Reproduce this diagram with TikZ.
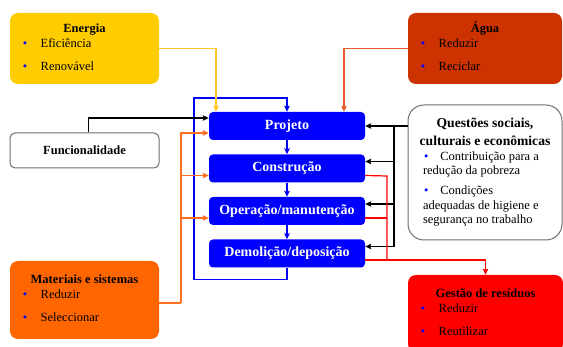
\documentclass[tikz,border=0pt]{standalone}
\usepackage{fontspec}
\setmainfont{Liberation Serif}
\usepackage{tikz}
\usetikzlibrary{arrows.meta,shapes,positioning}
\usepackage{xcolor}
\definecolor{dfblue}{RGB}{0,0,255}
\definecolor{dfyellow}{RGB}{255,204,0}
\definecolor{dfyellowline}{RGB}{255,200,40}
\definecolor{dfagua}{RGB}{204,51,0}
\definecolor{dfagualine}{RGB}{230,90,40}
\definecolor{dforange}{RGB}{255,102,0}
\definecolor{dforangeline}{RGB}{255,110,30}
\definecolor{dfred}{RGB}{255,0,0}
\definecolor{dfgray}{RGB}{110,110,110}
\tikzstyle{arrow} = [line width=1.2pt,-{Stealth[length=6pt,width=5.5pt,inset=1pt]}]
\tikzstyle{linha} = [line width=1.2pt]
\tikzstyle{caixa} = [rectangle, rounded corners=8pt, inner sep=5pt, font=\fontsize{12.5}{15}\selectfont]
\tikzstyle{etapa} = [rectangle, rounded corners=4pt, minimum width=156pt, minimum height=28pt, fill=dfblue, text=white, font=\fontsize{14}{16}\selectfont\bfseries]
\newcommand{\ponto}{\hspace*{7.8pt}\textcolor{dfblue}{\textbullet}\hspace{13.5pt}}

\begin{document}
\begin{tikzpicture}[x=1pt, y=-1pt]
\useasboundingbox (0,0) rectangle (563,347);

% life cycle stages
\node (projeto) [etapa] at (287,126) {Projeto};
\node (construcao) [etapa, below of=projeto, node distance=42.5pt] {Construção};
\node (operacao) [etapa, below of=construcao, node distance=42.5pt] {Operação/manutenção};
\node (demolicao) [etapa, below of=operacao, node distance=42.5pt] {Demolição/deposição};

% boxes on the left
\node (energia) [caixa, minimum width=149pt, minimum height=71pt, fill=dfyellow] at (84.5,48.5) {
\begin{tabular}{@{}p{139pt}@{}}
\multicolumn{1}{c}{\textbf{Energia}}\\
\ponto Eficiência\\[8pt]
\ponto Renovável
\end{tabular}
};

\node (funcionalidade) [caixa, rounded corners=5pt, minimum width=149pt, minimum height=35pt, draw=dfgray, line width=1pt] at (84.5,150.5) {\textbf{Funcionalidade}};

\node (materiais) [caixa, minimum width=149pt, minimum height=78pt, fill=dforange] at (84.5,300) {
\begin{tabular}{@{}p{139pt}@{}}
\multicolumn{1}{c}{\textbf{Materiais e sistemas}}\\
\ponto Reduzir\\[8pt]
\ponto Seleccionar
\end{tabular}
};

% boxes on the right
\node (agua) [caixa, minimum width=154pt, minimum height=71pt, fill=dfagua] at (485,48.5) {
\begin{tabular}{@{}p{144pt}@{}}
\multicolumn{1}{c}{\textbf{Água}}\\
\ponto Reduzir\\[8pt]
\ponto Reciclar
\end{tabular}
};

\node (questoes) [caixa, rounded corners=16pt, minimum width=154pt, minimum height=135pt, draw=dfgray, line width=1pt, fill=white] at (485,172.5) {
\begin{tabular}{@{}p{144pt}@{}}
\multicolumn{1}{c}{\fontsize{13.6}{18}\selectfont\bfseries Questões sociais,}\\[3pt]
\multicolumn{1}{c}{\fontsize{13.6}{18}\selectfont\bfseries culturais e econômicas}\\
\fontsize{12.5}{14}\selectfont\raggedright\leftskip=10pt
\hspace*{1pt}\textcolor{dfblue}{\textbullet}\hspace{12pt}Contribuição para a\newline redução da pobreza\\[6pt]
\fontsize{12.5}{14.5}\selectfont\raggedright\leftskip=10pt
\hspace*{1pt}\textcolor{dfblue}{\textbullet}\hspace{12pt}Condições\newline adequadas de higiene e\newline segurança no trabalho
\end{tabular}
};

\node (residuos) [caixa, minimum width=155pt, minimum height=77pt, fill=dfred] at (485.5,313.5) {
\begin{tabular}{@{}p{145pt}@{}}
\multicolumn{1}{c}{\textbf{Gestão de resíduos}}\\
\ponto Reduzir\\[8pt]
\ponto Reutilizar
\end{tabular}
};

% bends of the connectors
\coordinate (laco) at (194,98);
\coordinate (mbus) at (181,303);
\coordinate (qbus) at (394,126);
\coordinate (rtop) at (387,176);
\coordinate (rbot) at (387,260);

% stage sequence and feedback loop
\draw[arrow, dfblue] (projeto) -- (construcao);
\draw[arrow, dfblue] (construcao) -- (operacao);
\draw[arrow, dfblue] (operacao) -- (demolicao);
\draw[arrow, dfblue] (demolicao.south) -- ++(0,12) -| (laco) -| (projeto.north);

% inputs
\draw[arrow, dfyellowline] (energia) -| ([xshift=-71pt]projeto.north);
\draw[arrow, dfagualine] (agua) -| ([xshift=57pt]projeto.north);
\draw[arrow, black] ([xshift=4pt]funcionalidade.north) |- ([yshift=8pt]projeto.west);
\draw[linha, dforangeline] ([yshift=-3pt]materiais.east) -- (mbus);
\draw[arrow, dforangeline] (mbus) |- ([yshift=-7pt]projeto.west);
\draw[arrow, dforangeline] (mbus) |- ([yshift=-7pt]construcao.west);
\draw[arrow, dforangeline] (mbus) |- ([yshift=-7pt]operacao.west);

% social questions
\draw[arrow, black] (qbus -| questoes.west) -- (projeto.east);
\draw[arrow, black] (qbus) |- ([yshift=7pt]construcao.east);
\draw[arrow, black] (qbus) |- ([yshift=7pt]operacao.east);
\draw[arrow, black] (qbus) |- ([yshift=7pt]demolicao.east);

% waste
\draw[linha, dfred] ([yshift=-7pt]construcao.east) -- (rtop) -- (rbot);
\draw[linha, dfred] ([yshift=-7pt]operacao.east) -- ++(22,0);
\draw[arrow, dfred] ([yshift=-6.5pt]demolicao.east) -| (residuos.north);
\end{tikzpicture}
\end{document}
